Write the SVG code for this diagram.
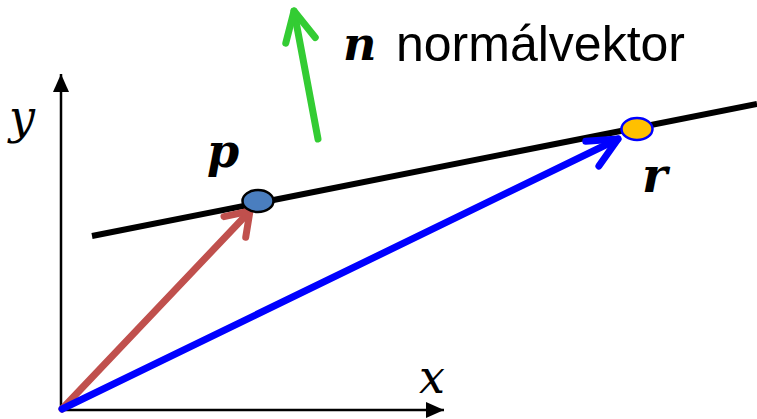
<svg xmlns="http://www.w3.org/2000/svg" width="757" height="419" viewBox="0 0 757 419">
<style>
.axis{stroke:#000;stroke-width:2.5;fill:none}
.vec{fill:none;stroke-linecap:round}
.lbl{font-family:"DejaVu Serif","Liberation Serif",serif;font-style:italic;fill:#000}
.bold{font-weight:bold}
.txt{font-family:"Liberation Sans","Open Sans",sans-serif;fill:#000}
</style>
<defs>
<marker id="triK" markerUnits="userSpaceOnUse" viewBox="-20 -10 22 20" refX="0" refY="0" markerWidth="22" markerHeight="20" orient="auto">
<path d="M0,0 L-18,-8 L-18,8 Z" fill="#000"/>
</marker>
<marker id="chevR" markerUnits="userSpaceOnUse" viewBox="-40 -24 50 48" refX="0" refY="0" markerWidth="50" markerHeight="48" orient="auto">
<path d="M-22,-15 L0,0 L-22,15" fill="none" stroke="#C0504D" stroke-width="7" stroke-linecap="round" stroke-linejoin="round"/>
</marker>
<marker id="chevB" markerUnits="userSpaceOnUse" viewBox="-40 -24 50 48" refX="0" refY="0" markerWidth="50" markerHeight="48" orient="auto">
<path d="M-30,-12 L0,0 L-29,16" fill="none" stroke="#0000FF" stroke-width="7" stroke-linecap="round" stroke-linejoin="round"/>
</marker>
<marker id="chevG" markerUnits="userSpaceOnUse" viewBox="-40 -24 50 48" refX="0" refY="0" markerWidth="50" markerHeight="48" orient="auto">
<path d="M-30,-14 L0,0 L-30,16" fill="none" stroke="#33CC33" stroke-width="7" stroke-linecap="round" stroke-linejoin="round"/>
</marker>
</defs>
<g id="connectors">
<line id="y-axis" class="axis" x1="61" y1="411" x2="61" y2="74" marker-end="url(#triK)"/>
<line id="x-axis" class="axis" x1="60" y1="410" x2="444" y2="410" marker-end="url(#triK)"/>
<line id="line" x1="92" y1="236" x2="757" y2="104" stroke="#000" stroke-width="6"/>
<line id="vec-p" class="vec" x1="62" y1="409" x2="250" y2="211" stroke="#C0504D" stroke-width="7" marker-end="url(#chevR)"/>
<line id="vec-r" class="vec" x1="62" y1="409" x2="618" y2="139" stroke="#0000FF" stroke-width="7" marker-end="url(#chevB)"/>
<line id="vec-n" class="vec" x1="318" y1="139" x2="294" y2="11" stroke="#33CC33" stroke-width="7" marker-end="url(#chevG)"/>
</g>
<g id="point-p">
<ellipse cx="258" cy="201" rx="15.5" ry="11" fill="#4A7EBF" stroke="#000" stroke-width="2.5"/>
<text class="lbl bold" x="207" y="167" font-size="46">p</text>
</g>
<g id="point-r">
<ellipse cx="637" cy="129" rx="15.5" ry="11" fill="#FFC000" stroke="#0000FF" stroke-width="2.5"/>
<text class="lbl bold" x="642" y="192" font-size="48">r</text>
</g>
<g id="label-y"><text class="lbl" x="9" y="133" font-size="46">y</text></g>
<g id="label-x"><text class="lbl" x="419" y="393" font-size="46">x</text></g>
<g id="label-n">
<text y="60"><tspan class="lbl bold" x="343" font-size="46">n</tspan><tspan class="txt" x="396" y="61" font-size="50">normálvektor</tspan></text>
</g>
</svg>
